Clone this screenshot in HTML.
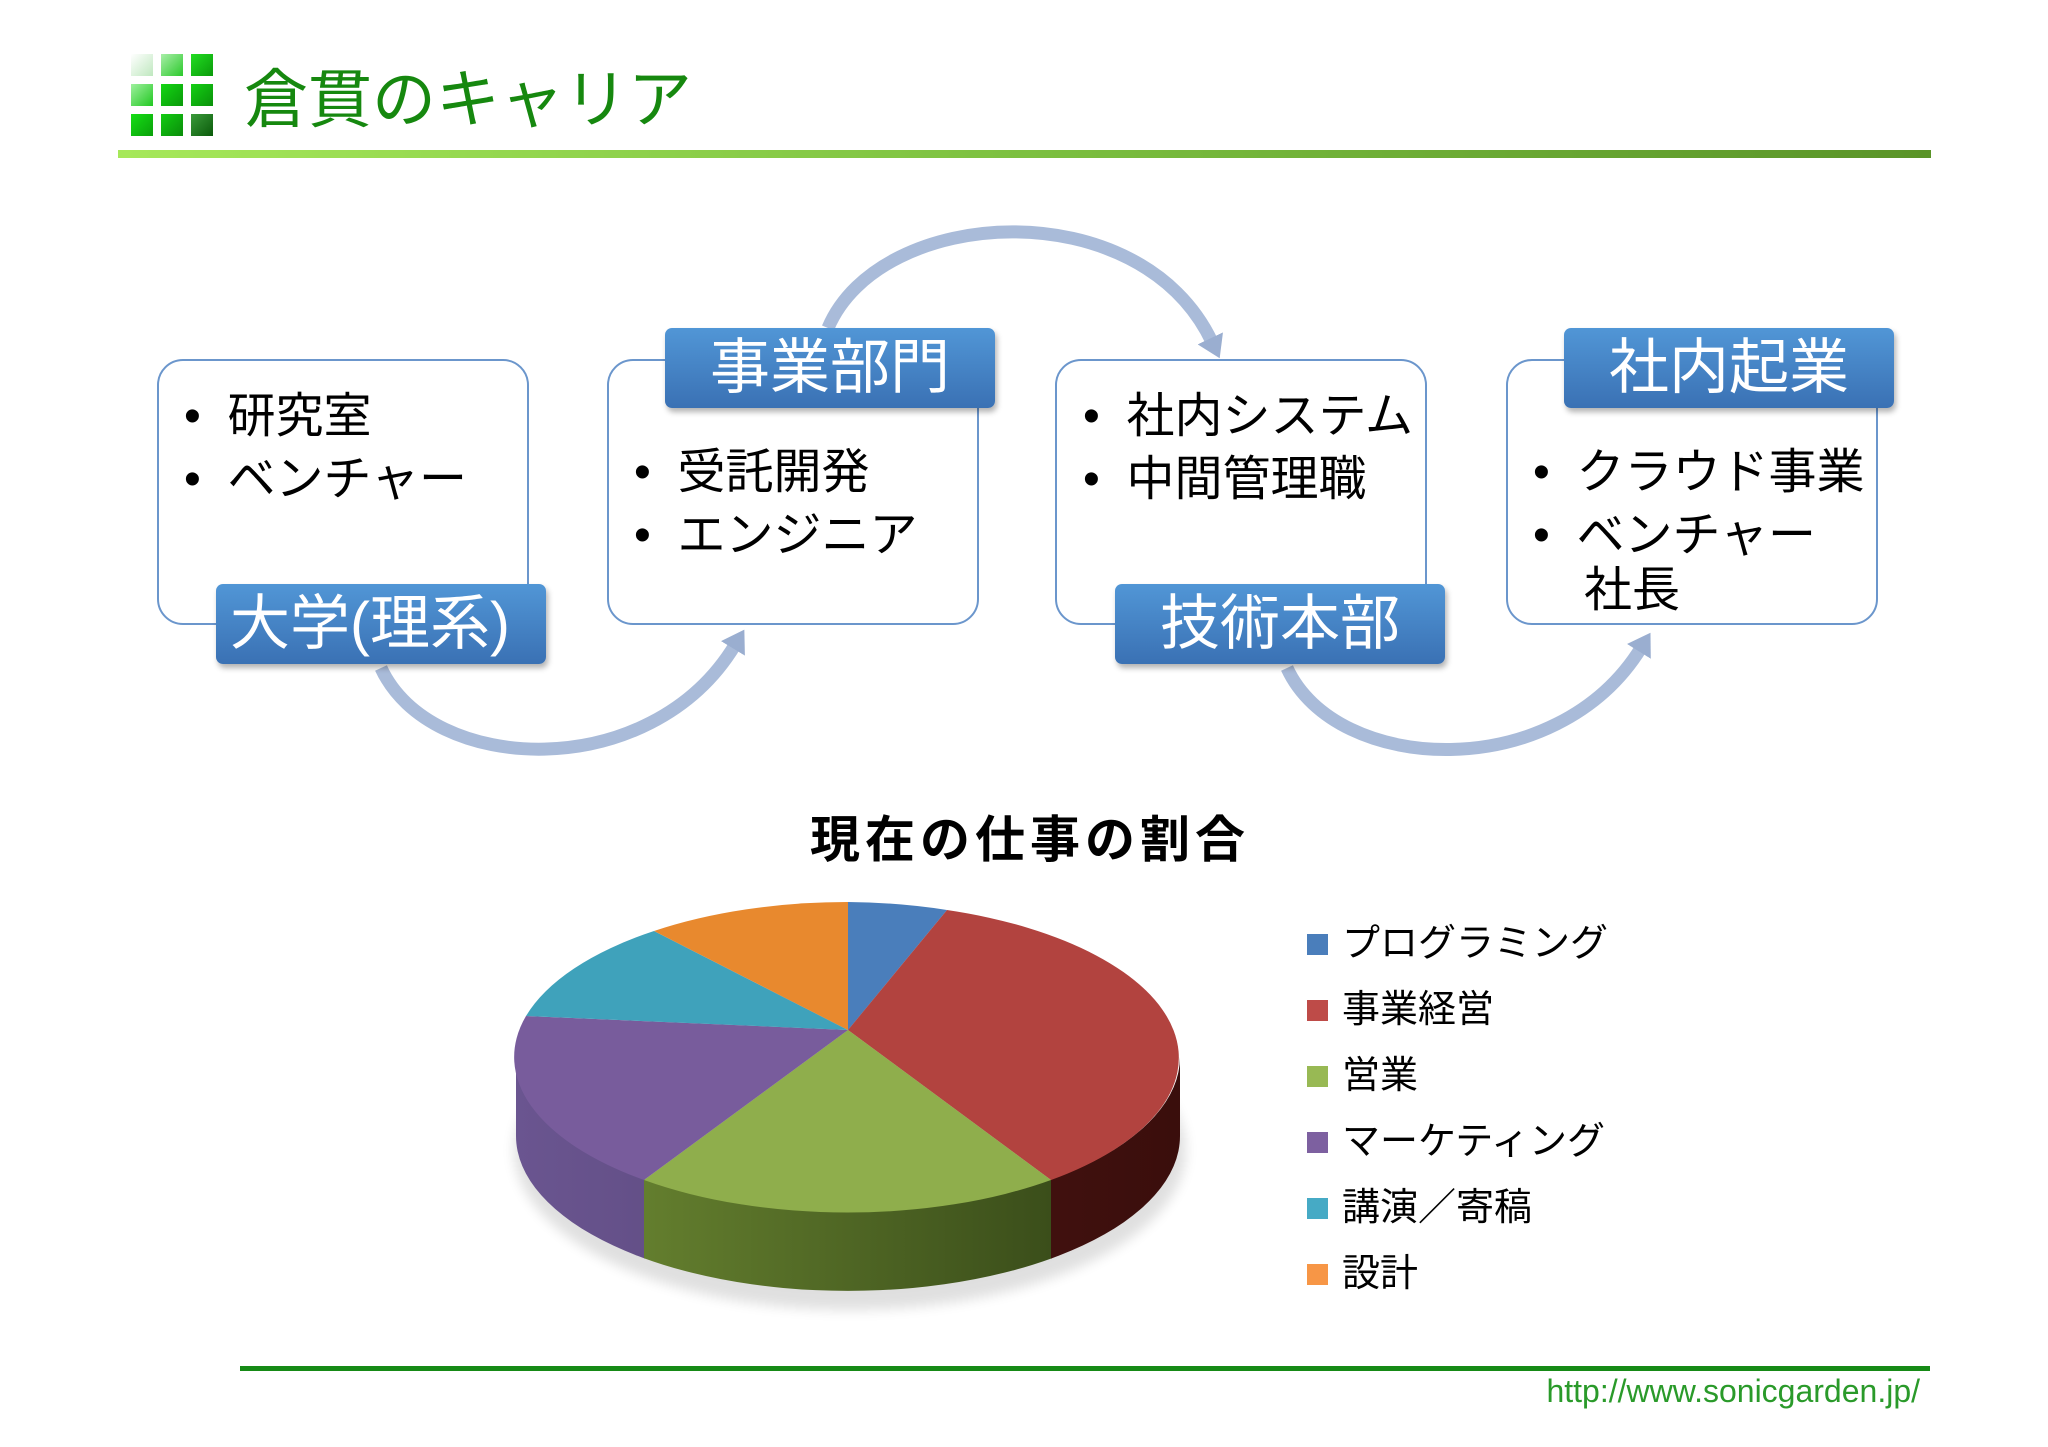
<!DOCTYPE html>
<html><head><meta charset="utf-8"><style>
html,body{margin:0;padding:0;background:#fff;}
body{width:2048px;height:1447px;position:relative;overflow:hidden;font-family:"Liberation Sans","Noto Sans CJK JP",sans-serif;}
.abs{position:absolute;}
.box{position:absolute;border:2px solid #6b96cc;border-radius:26px;background:#fff;box-sizing:border-box;}
.lab{position:absolute;background:linear-gradient(#5196d6,#3a71b4);border-radius:7px;color:#fff;font-size:60px;text-align:center;box-shadow:2px 4px 6px rgba(0,0,0,0.3);line-height:80px;box-sizing:border-box;}
.t{position:absolute;font-size:48px;color:#000;line-height:56px;white-space:nowrap;}
.leg{position:absolute;left:1342px;font-size:38px;line-height:46px;white-space:nowrap;color:#000;}
.sq{position:absolute;left:1307px;width:21px;height:21px;}
.cell{position:absolute;width:22px;height:22px;}
</style></head><body>
<div class="cell" style="left:131px;top:54px;background:linear-gradient(135deg,#fff,#bfe8bf)"></div>
<div class="cell" style="left:161px;top:54px;background:linear-gradient(135deg,#a8eea8,#2bc92b)"></div>
<div class="cell" style="left:191px;top:54px;background:linear-gradient(135deg,#22dd22,#0a9a0a)"></div>
<div class="cell" style="left:131px;top:84px;background:linear-gradient(135deg,#9ef09e,#22c822)"></div>
<div class="cell" style="left:161px;top:84px;background:linear-gradient(135deg,#14d614,#0a990a)"></div>
<div class="cell" style="left:191px;top:84px;background:linear-gradient(135deg,#14d014,#0a900a)"></div>
<div class="cell" style="left:131px;top:114px;background:linear-gradient(135deg,#16de16,#0aa00a)"></div>
<div class="cell" style="left:161px;top:114px;background:linear-gradient(135deg,#12cc12,#0a8c0a)"></div>
<div class="cell" style="left:191px;top:114px;background:linear-gradient(135deg,#3a9a3a,#0a5a0a)"></div>
<div class="abs" style="left:244px;top:60px;font-size:64px;color:#16880f;line-height:80px;white-space:nowrap;">倉貫のキャリア</div>
<div class="abs" style="left:118px;top:150px;width:1813px;height:8px;background:linear-gradient(90deg,#a6e85a,#7cc040 50%,#5a9428);"></div>

<svg class="abs" style="left:0;top:0" width="2048" height="1447">
<defs>
<marker id="ah" markerUnits="userSpaceOnUse" markerWidth="30" markerHeight="30" refX="4" refY="14" orient="auto"><path d="M0,0 L22,14 L0,28 Z" fill="#9aaed0"/></marker>
</defs>
<g fill="none" stroke="#a9bbd9" stroke-width="13">
<path d="M381 668 C430 775 650 785 735 645" marker-end="url(#ah)"/>
<path d="M828 328 C880 205 1140 190 1212 342" marker-end="url(#ah)"/>
<path d="M1287 668 C1336 775 1556 785 1641 648" marker-end="url(#ah)"/>
</g>
</svg>

<div class="box" style="left:157px;top:359px;width:372px;height:266px;"></div>
<div class="box" style="left:607px;top:359px;width:372px;height:266px;"></div>
<div class="box" style="left:1055px;top:359px;width:372px;height:266px;"></div>
<div class="box" style="left:1506px;top:359px;width:372px;height:266px;"></div>

<div class="t" style="left:184px;top:389px;">•&nbsp;&nbsp;研究室</div>
<div class="t" style="left:184px;top:452px;">•&nbsp;&nbsp;ベンチャー</div>
<div class="t" style="left:634px;top:445px;">•&nbsp;&nbsp;受託開発</div>
<div class="t" style="left:634px;top:508px;">•&nbsp;&nbsp;エンジニア</div>
<div class="t" style="left:1083px;top:389px;">•&nbsp;&nbsp;社内システム</div>
<div class="t" style="left:1083px;top:452px;">•&nbsp;&nbsp;中間管理職</div>
<div class="t" style="left:1533px;top:445px;">•&nbsp;&nbsp;クラウド事業</div>
<div class="t" style="left:1533px;top:508px;">•&nbsp;&nbsp;ベンチャー</div>
<div class="t" style="left:1584px;top:563px;">社長</div>

<div class="lab" style="left:216px;top:584px;width:330px;height:80px;text-align:left;padding-left:14px;">大学(理系)</div>
<div class="lab" style="left:665px;top:328px;width:330px;height:80px;">事業部門</div>
<div class="lab" style="left:1115px;top:584px;width:330px;height:80px;">技術本部</div>
<div class="lab" style="left:1564px;top:328px;width:330px;height:80px;">社内起業</div>

<div class="abs" style="left:810px;top:810px;font-size:50px;font-weight:bold;line-height:60px;white-space:nowrap;letter-spacing:5px;">現在の仕事の割合</div>

<svg class="abs" style="left:0;top:0" width="2048" height="1447">
<defs>
<clipPath id="cp"><rect x="500" y="1000" width="145" height="320"/></clipPath>
<clipPath id="cg"><rect x="644" y="1000" width="408" height="320"/></clipPath>
<clipPath id="cr"><rect x="1051" y="1000" width="200" height="320"/></clipPath>
<linearGradient id="gp" x1="0" x2="1"><stop offset="0" stop-color="#6a5590"/><stop offset="1" stop-color="#4a3a66"/></linearGradient>
<linearGradient id="gg" x1="0" x2="1"><stop offset="0" stop-color="#708d34"/><stop offset="1" stop-color="#2e3f14"/></linearGradient>
<linearGradient id="gr" x1="0" x2="1"><stop offset="0" stop-color="#5a1a16"/><stop offset="1" stop-color="#3a0e0c"/></linearGradient>
<filter id="sh"><feGaussianBlur stdDeviation="6"/></filter>
</defs>
<ellipse cx="850" cy="1150" rx="336" ry="160" fill="#000" opacity="0.12" filter="url(#sh)"/>
<path d="M516 1057 A332 155 0 0 0 1180 1057 L1180 1136 A332 155 0 0 1 516 1136 Z" fill="url(#gp)" clip-path="url(#cp)"/>
<path d="M516 1057 A332 155 0 0 0 1180 1057 L1180 1136 A332 155 0 0 1 516 1136 Z" fill="url(#gg)" clip-path="url(#cg)"/>
<path d="M516 1057 A332 155 0 0 0 1180 1057 L1180 1136 A332 155 0 0 1 516 1136 Z" fill="url(#gr)" clip-path="url(#cr)"/>
<path d="M848 1030 L848 902 A332 155 0 0 1 947 910 Z" fill="#4a7ebb"/>
<path d="M848 1030 L947 910 A332 155 0 0 1 1051 1180 Z" fill="#b2433f"/>
<path d="M848 1030 L1051 1180 A332 155 0 0 1 644 1180 Z" fill="#8fae4c"/>
<path d="M848 1030 L644 1180 A332 155 0 0 1 526 1016 Z" fill="#785c9c"/>
<path d="M848 1030 L526 1016 A332 155 0 0 1 654 931 Z" fill="#3fa2bb"/>
<path d="M848 1030 L654 931 A332 155 0 0 1 848 902 Z" fill="#e8892e"/>
</svg>

<div class="sq" style="top:934px;background:#4a7ebb"></div><div class="leg" style="top:921px;">プログラミング</div>
<div class="sq" style="top:1000px;background:#be4b48"></div><div class="leg" style="top:987px;">事業経営</div>
<div class="sq" style="top:1066px;background:#98b954"></div><div class="leg" style="top:1053px;">営業</div>
<div class="sq" style="top:1132px;background:#7d60a0"></div><div class="leg" style="top:1119px;">マーケティング</div>
<div class="sq" style="top:1198px;background:#46aac5"></div><div class="leg" style="top:1185px;">講演／寄稿</div>
<div class="sq" style="top:1264px;background:#f79646"></div><div class="leg" style="top:1251px;">設計</div>

<div class="abs" style="left:240px;top:1366px;width:1690px;height:5px;background:#168a16;"></div>
<div class="abs" style="right:128px;top:1372px;font-size:32px;color:#2a9a2a;line-height:38px;">http://www.sonicgarden.jp/</div>
</body></html>
